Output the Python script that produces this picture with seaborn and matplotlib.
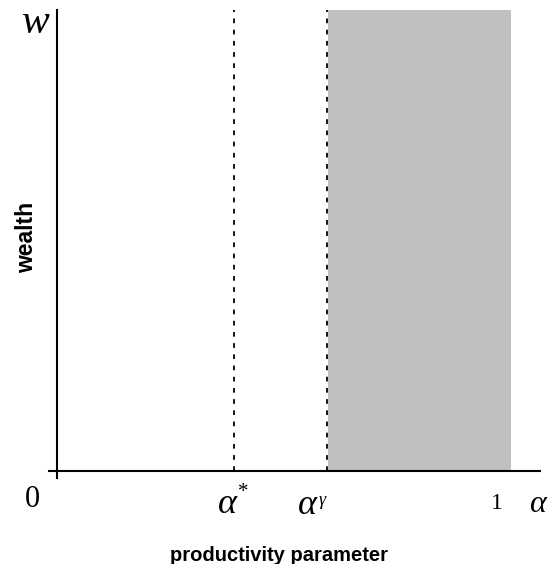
import numpy as np
import pandas as pd
import matplotlib
matplotlib.use("Agg")
import matplotlib.pyplot as plt
import seaborn as sns

# ---- data ----
threshold_names = ["alpha_star", "alpha_gamma"]
threshold_x = [0.39, 0.595]
shade_start = 0.597
shade_end = 1.0
w_top = 1.0
x_label = "productivity parameter"
y_label = "wealth"
axis_var_x = "α"
axis_var_y = "w"
origin_label = "0"
one_label = "1"

sns.set_theme(style="white")
plt.rcParams["font.family"] = ["Liberation Sans", "DejaVu Sans"]
plt.rcParams["text.color"] = "black"

W, H = 548, 564
fig = plt.figure(figsize=(W / 100, H / 100), dpi=100)

# pixel layout
px_left, px_right, px_top, px_bottom = 49, 540, 10, 478
x0_px, x1_px = 57, 511
y0_px, y1_px = 471, 10
ax = fig.add_axes([px_left / W, 1 - px_bottom / H,
                   (px_right - px_left) / W, (px_bottom - px_top) / H])
sx = (x1_px - x0_px)
sy = (y0_px - y1_px)
ax.set_xlim((px_left - x0_px) / sx, (px_right - x0_px) / sx)
ax.set_ylim(-(px_bottom - y0_px) / sy, (y0_px - px_top) / sy)

# shaded region
ax.fill_betweenx([0.0, w_top], shade_start, shade_end, color="#C0C0C0", lw=0, zorder=1)

# dashed threshold lines
df = pd.DataFrame({
    "x": [v for v in threshold_x for _ in range(2)],
    "y": [0.0, w_top] * len(threshold_x),
    "name": [n for n in threshold_names for _ in range(2)],
})
sns.lineplot(data=df, x="x", y="y", units="name", estimator=None, sort=False,
             color="black", lw=1.3, ax=ax, zorder=3, legend=False)
for ln in ax.lines:
    ln.set_dashes((2.6, 3.6))

# spines crossing at origin
for s in ["top", "right"]:
    ax.spines[s].set_visible(False)
for s in ["left", "bottom"]:
    ax.spines[s].set_position(("data", 0))
    ax.spines[s].set_color("black")
    ax.spines[s].set_linewidth(1.5)
    ax.spines[s].set_zorder(4)
ax.set_xticks([])
ax.set_yticks([])
ax.set_xlabel("")
ax.set_ylabel("")
ax.patch.set_alpha(0)

serif = ["Liberation Serif", "DejaVu Serif"]

def ftext(x, y, s, **kw):
    fig.text(x / W, 1 - y / H, s, color="black", **kw)

# axis variable labels
ftext(36, 33, axis_var_y, family=serif, style="italic", fontsize=30,
      ha="center", va="baseline")
ftext(32, 507, origin_label, family=serif, fontsize=22, ha="center", va="baseline")
ftext(497, 509, one_label, family=serif, fontsize=17, ha="center", va="baseline")
ftext(537.5, 512, axis_var_x, family=serif, style="italic", fontsize=23,
      ha="center", va="baseline")
# alpha*
ftext(227.5, 513, "α", family=serif, style="italic", fontsize=26, ha="center", va="baseline")
ftext(243, 497, "*", family=serif, fontsize=15, ha="center", va="baseline")
# alpha^gamma
ftext(307, 514, "α", family=serif, style="italic", fontsize=26, ha="center", va="baseline")
ftext(322, 505, "γ", family=serif, style="italic", fontsize=13, ha="center", va="baseline")

# axis titles
ftext(279, 561, x_label, fontsize=14.5, fontweight="bold", ha="center", va="baseline")
ftext(26.5, 237.5, y_label, fontsize=16.5, fontweight="bold", rotation=90,
      ha="center", va="center")

fig.savefig("out.png", dpi=100)
